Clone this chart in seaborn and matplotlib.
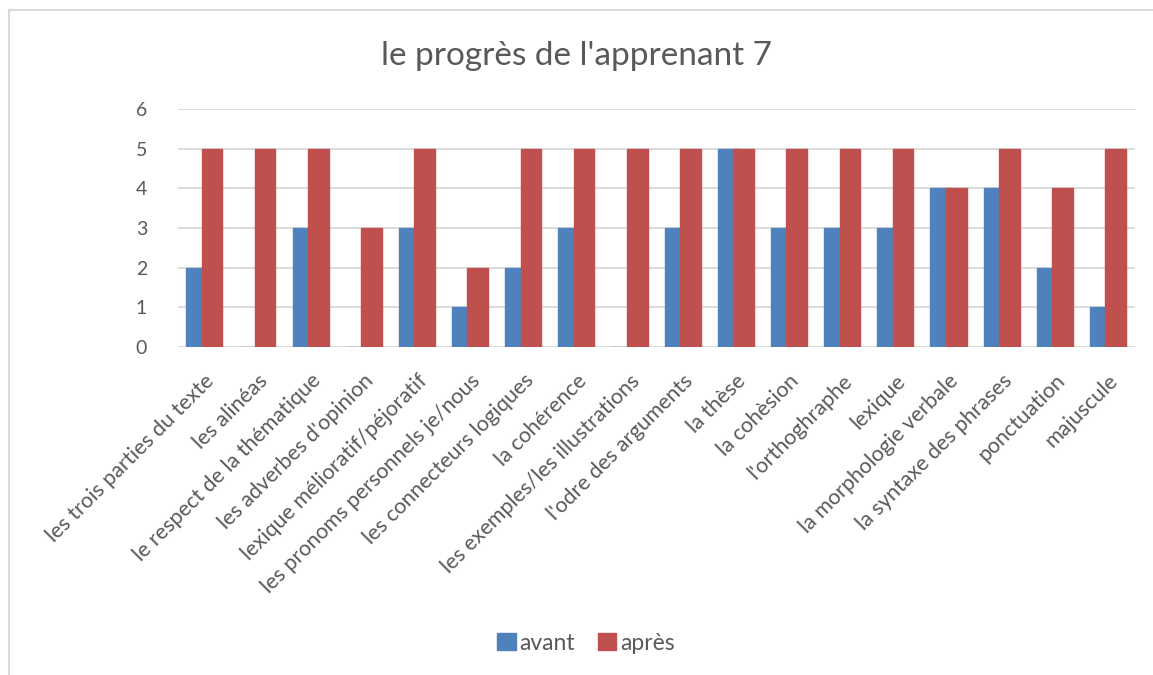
import matplotlib
matplotlib.use("Agg")
import matplotlib.pyplot as plt
import seaborn as sns
import pandas as pd
from matplotlib.patches import Rectangle, Patch

categories = [
    "les trois parties du texte", "les alinéas", "le respect de la thématique",
    "les adverbes d'opinion", "lexique mélioratif/péjoratif",
    "les pronoms personnels je/nous", "les connecteurs logiques", "la cohérence",
    "les exemples/les illustrations", "l'odre des arguments", "la thèse",
    "la cohèsion", "l'orthoghraphe", "lexique", "la morphologie verbale",
    "la syntaxe des phrases", "ponctuation", "majuscule",
]
avant = [2, 0, 3, 0, 3, 1, 2, 3, 0, 3, 5, 3, 3, 3, 4, 4, 2, 1]
apres = [5, 5, 5, 3, 5, 2, 5, 5, 5, 5, 5, 5, 5, 5, 4, 5, 4, 5]
series = ["avant", "après"]
colors = ["#4F81BD", "#C0504D"]
title = "le progrès de l'apprenant 7"
yticks = [0, 1, 2, 3, 4, 5, 6]

df = pd.DataFrame({
    "cat": categories * 2,
    "val": avant + apres,
    "serie": [series[0]] * len(categories) + [series[1]] * len(categories),
})

sns.set_theme(style="white")
plt.rcParams["font.family"] = ["Lato", "DejaVu Sans"]
txt = "#595959"

fig = plt.figure(figsize=(11.53, 6.75), dpi=100)
ax = fig.add_axes([0.1541, 0.486, 0.984 - 0.1541, 0.8385 - 0.486])

sns.barplot(data=df, x="cat", y="val", hue="serie", palette=colors,
            hue_order=series, order=categories, ax=ax, legend=False,
            width=0.8, saturation=1)

# Excel-like overlapping bars
bw = 0.39
off = 0.145
for p in ax.patches:
    c = p.get_x() + p.get_width() / 2
    k = round(c)
    s = -1 if c < k else 1
    p.set_width(bw)
    p.set_x(k + s * off - bw / 2)
    p.set_edgecolor(p.get_facecolor())
    p.set_linewidth(1.0)

ax.set_xlim(-0.5, len(categories) - 0.5)
ax.set_ylim(0, 6)
ax.set_yticks(yticks)
ax.set_yticklabels([str(v) for v in yticks], fontsize=14, color=txt)
ax.yaxis.grid(True, color="#D9D9D9", linewidth=1.3)
ax.set_axisbelow(True)
for s in ax.spines.values():
    s.set_visible(False)
ax.tick_params(axis="y", length=0, pad=22)
ax.tick_params(axis="x", length=0, pad=17)
ax.set_xticks(range(len(categories)))
ax.set_xticklabels(categories, rotation=45, ha="right", rotation_mode="anchor",
                   fontsize=15.5, color=txt)
ax.set_xlabel("")
ax.set_ylabel("")

fig.text(0.5, 1 - 56 / 675, title, ha="center", va="center", fontsize=24, color=txt)

handles = [Patch(facecolor=c, edgecolor=c) for c in colors]
fig.legend(handles, series, loc="center", bbox_to_anchor=(0.508, 1 - 643 / 675),
           ncol=2, frameon=False, fontsize=16.5, labelcolor=txt,
           handlelength=0.82, handleheight=0.82, handletextpad=0.15,
           columnspacing=1.0, borderpad=0.2)

fig.patches.append(Rectangle((9 / 1153, -0.1), 1.2, 1 - 10 / 675 + 0.1,
                             transform=fig.transFigure, fill=False,
                             edgecolor="#D9D9D9", linewidth=1.5))

fig.savefig("out.png", dpi=100)
